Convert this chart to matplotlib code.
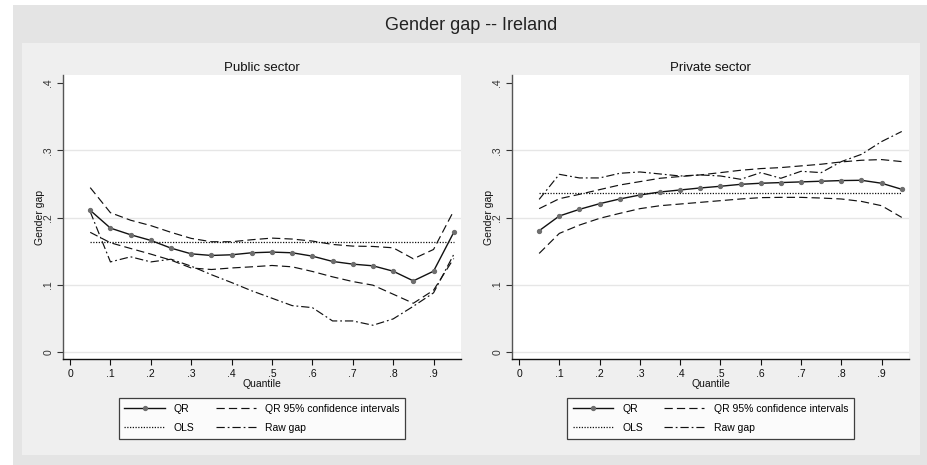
import matplotlib
matplotlib.use("Agg")
import matplotlib.pyplot as plt
from matplotlib.patches import Rectangle
from matplotlib.lines import Line2D

plt.rcParams['font.family'] = ['Liberation Sans', 'DejaVu Sans']

quantiles = [0.05, 0.10, 0.15, 0.20, 0.25, 0.30, 0.35, 0.40, 0.45, 0.50,
             0.55, 0.60, 0.65, 0.70, 0.75, 0.80, 0.85, 0.90, 0.95]

pub_qr = [0.2107, 0.1843, 0.1744, 0.166, 0.1545, 0.146, 0.1436, 0.1446, 0.1476, 0.1486,
          0.1476, 0.1426, 0.1347, 0.1307, 0.1282, 0.1202, 0.1058, 0.1202, 0.1779]
pub_hi = [0.2445, 0.2072, 0.196, 0.188, 0.178, 0.169, 0.164, 0.164, 0.167, 0.1694,
          0.168, 0.165, 0.160, 0.1575, 0.157, 0.155, 0.1386, 0.1525, 0.210]
pub_lo = [0.178, 0.1625, 0.154, 0.1456, 0.1366, 0.125, 0.1227, 0.125, 0.1267, 0.1287,
          0.1267, 0.1198, 0.1118, 0.1048, 0.0994, 0.086, 0.0725, 0.0919, 0.139]
pub_raw = [0.2087, 0.134, 0.1416, 0.134, 0.138, 0.1277, 0.115, 0.1033, 0.091, 0.080,
           0.069, 0.066, 0.0462, 0.0462, 0.0398, 0.0492, 0.068, 0.088, 0.145]
pub_ols = 0.1635

prv_qr = [0.1804, 0.2023, 0.2122, 0.2206, 0.2276, 0.2335, 0.238, 0.241, 0.244, 0.2465,
          0.2494, 0.251, 0.252, 0.253, 0.254, 0.255, 0.2554, 0.251, 0.242]
prv_hi = [0.2132, 0.228, 0.2345, 0.2415, 0.2484, 0.2534, 0.2584, 0.261, 0.2634, 0.2668,
          0.2703, 0.2728, 0.2743, 0.2768, 0.2793, 0.2827, 0.2852, 0.2862, 0.2832]
prv_lo = [0.1466, 0.1764, 0.1888, 0.1988, 0.2062, 0.2132, 0.2176, 0.2201, 0.2226, 0.2251,
          0.2276, 0.2296, 0.2300, 0.2300, 0.229, 0.2276, 0.224, 0.2176, 0.2002]
prv_raw = [0.227, 0.2643, 0.2589, 0.2589, 0.2658, 0.2678, 0.2648, 0.2618, 0.2634, 0.2618,
           0.2569, 0.2668, 0.2584, 0.2688, 0.2668, 0.2832, 0.294, 0.313, 0.328]
prv_ols = 0.236

xticks = [0, .1, .2, .3, .4, .5, .6, .7, .8, .9]
xticklabels = ['0', '.1', '.2', '.3', '.4', '.5', '.6', '.7', '.8', '.9']
yticks = [0, .1, .2, .3, .4]
yticklabels = ['0', '.1', '.2', '.3', '.4']

W, H = 927, 465
fig = plt.figure(figsize=(W / 100, H / 100), dpi=100, facecolor='white')

def px_rect(x0, y0, x1, y1, color):
    fig.patches.append(Rectangle((x0 / W, 1 - y1 / H), (x1 - x0) / W, (y1 - y0) / H,
                                 transform=fig.transFigure, facecolor=color,
                                 edgecolor='none', zorder=-10))

px_rect(13, 5, 927, 465, '#e4e4e4')
px_rect(22, 43, 920, 455, '#efefef')

fig.text(471 / W, 1 - 25 / H, 'Gender gap -- Ireland', ha='center', va='center',
         fontsize=13, color='#222222')

dash = (0, (7, 3.5))
dashdot = (0, (7, 2.5, 1.5, 2.5))
dotted = (0, (1, 1.2))

def panel(left_px, right_px, title, qr, hi, lo, raw, ols):
    ax = fig.add_axes([left_px / W, 1 - 359 / H, (right_px - left_px) / W, (359 - 75) / H])
    ax.set_facecolor('white')
    ax.set_xlim(-0.0174, 0.968)
    ax.set_ylim(-0.0104, 0.412)
    for v in [0, .1, .2, .3]:
        ax.axhline(v, color='#e6e6e6', lw=1, zorder=0)
    ax.plot(quantiles, hi, color='#111111', lw=0.85, linestyle=dash, zorder=2)
    ax.plot(quantiles, lo, color='#111111', lw=0.85, linestyle=dash, zorder=2)
    ax.plot(quantiles, raw, color='#111111', lw=0.85, linestyle=dashdot, zorder=2)
    ax.plot([quantiles[0], quantiles[-1]], [ols, ols], color='#111111', lw=0.9,
            linestyle=dotted, zorder=2)
    ax.plot(quantiles, qr, color='#111111', lw=1.0, marker='o', markersize=2.8,
            markerfacecolor='#6e6e6e', markeredgecolor='#6e6e6e', zorder=3)
    for s in ['top', 'right']:
        ax.spines[s].set_visible(False)
    ax.spines['left'].set_color('#555555')
    ax.spines['bottom'].set_color('#111111')
    ax.spines['left'].set_linewidth(1.0)
    ax.spines['bottom'].set_linewidth(1.0)
    ax.set_xticks(xticks)
    ax.set_xticklabels(xticklabels)
    ax.set_yticks(yticks)
    ax.set_yticklabels(yticklabels, rotation=90, va='center')
    ax.tick_params(axis='both', direction='out', length=4, width=0.8, labelsize=7.5,
                   colors='#111111', pad=3)
    ax.tick_params(axis='y', colors='#333333')
    ax.set_xlabel('Quantile', fontsize=7.5, labelpad=0, color='#111111')
    ax.set_ylabel('Gender gap', fontsize=7.5, labelpad=-1, color='#111111')
    ax.set_title(title, fontsize=9.5, pad=3, color='#111111')

    handles = [
        Line2D([], [], color='#111111', lw=1.0, marker='o', markersize=2.8,
               markerfacecolor='#6e6e6e', markeredgecolor='#6e6e6e'),
        Line2D([], [], color='#111111', lw=0.9, linestyle=dotted),
        Line2D([], [], color='#111111', lw=0.85, linestyle=dash),
        Line2D([], [], color='#111111', lw=0.85, linestyle=dashdot),
    ]
    labels = ['QR', 'OLS', 'QR 95% confidence intervals', 'Raw gap']
    center = (left_px + right_px) / 2 / W
    leg = ax.legend(handles, labels, ncol=2, loc='upper center',
                    bbox_to_anchor=(center, 1 - 398 / H), bbox_transform=fig.transFigure,
                    fontsize=7.5, frameon=True, fancybox=False, handlelength=3.85,
                    columnspacing=2.0, handletextpad=0.9, borderpad=0.55,
                    labelspacing=0.9, borderaxespad=0)
    leg.get_frame().set_edgecolor('#111111')
    leg.get_frame().set_linewidth(0.9)
    return ax

panel(63, 461, 'Public sector', pub_qr, pub_hi, pub_lo, pub_raw, pub_ols)
panel(512, 909, 'Private sector', prv_qr, prv_hi, prv_lo, prv_raw, prv_ols)

fig.savefig('out.png', dpi=100, facecolor=fig.get_facecolor())
